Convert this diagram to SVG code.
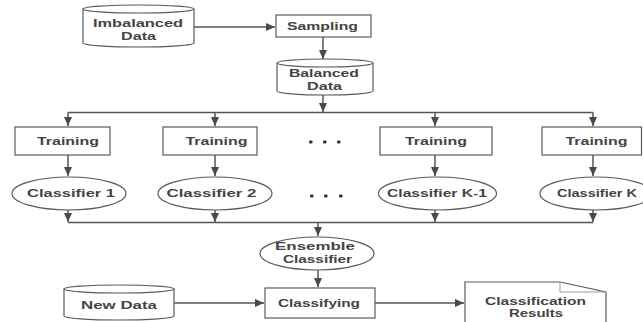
<svg xmlns="http://www.w3.org/2000/svg" width="643" height="322" viewBox="0 0 643 322">
<defs>
<marker id="ah" markerWidth="10" markerHeight="10" refX="9" refY="5" orient="auto" markerUnits="userSpaceOnUse">
<path d="M0,1 L9,5 L0,9 Z" fill="#4a4a4a"/>
</marker>
<style>
.s{fill:#fff;stroke:#5a5a5a;stroke-width:1.2}
.c{fill:none;stroke:#555;stroke-width:1.5}
.a{fill:none;stroke:#555;stroke-width:1.5;marker-end:url(#ah)}
.t{font-family:"Liberation Sans",Arial,sans-serif;font-size:11px;font-weight:bold;fill:#444;text-anchor:middle}
.d{fill:#333}
</style>
</defs>
<rect width="643" height="322" fill="#fff"/>
<g id="connectors">
<path class="a" d="M194,27 H275"/>
<path class="a" d="M323,37 V59"/>
<path class="a" d="M323,95 V112"/>
<path class="c" d="M68,112.5 H593"/>
<path class="a" d="M68,112.5 V126"/>
<path class="a" d="M215,112.5 V126"/>
<path class="a" d="M435,112.5 V126"/>
<path class="a" d="M593,112.5 V126"/>
<path class="a" d="M68,155 V176"/>
<path class="a" d="M215,155 V176"/>
<path class="a" d="M435,155 V176"/>
<path class="a" d="M593,155 V176"/>
<path class="a" d="M68,210 V222"/>
<path class="a" d="M215,210 V222"/>
<path class="a" d="M435,210 V222"/>
<path class="a" d="M593,210 V222"/>
<path class="c" d="M68,222.5 H593"/>
<path class="a" d="M318,222.5 V236"/>
<path class="a" d="M318,270 V287"/>
<path class="a" d="M174,303 H264"/>
<path class="a" d="M375,303 H464"/>
</g>
<g id="imbalanced">
<path class="s" d="M83,9 V43 A55.5,4 0 0 0 194,43 V9 A55.5,4 0 0 0 83,9 Z"/>
<path class="s" fill="none" d="M83,9 A55.5,4 0 0 0 194,9"/>
<text class="t" x="138" y="27" textLength="90" lengthAdjust="spacingAndGlyphs">Imbalanced</text>
<text class="t" x="138.5" y="39.5" textLength="35" lengthAdjust="spacingAndGlyphs">Data</text>
</g>
<g id="sampling">
<rect class="s" x="276" y="15" width="95" height="22"/>
<text class="t" x="322.5" y="30" textLength="71" lengthAdjust="spacingAndGlyphs">Sampling</text>
</g>
<g id="balanced">
<path class="s" d="M277,63 V91 A48,4 0 0 0 373,91 V63 A48,4 0 0 0 277,63 Z"/>
<path class="s" fill="none" d="M277,63 A48,4 0 0 0 373,63"/>
<text class="t" x="324" y="77" textLength="70" lengthAdjust="spacingAndGlyphs">Balanced</text>
<text class="t" x="324.5" y="89.5" textLength="35" lengthAdjust="spacingAndGlyphs">Data</text>
</g>
<g id="training1">
<rect class="s" x="15" y="127" width="95" height="28"/>
<text class="t" x="68" y="145" textLength="62" lengthAdjust="spacingAndGlyphs">Training</text>
</g>
<g id="training2">
<rect class="s" x="163" y="127" width="94" height="28"/>
<text class="t" x="216.5" y="145" textLength="62" lengthAdjust="spacingAndGlyphs">Training</text>
</g>
<g id="dots">
<rect class="d" x="309" y="140.5" width="3.5" height="3" rx="1"/>
<rect class="d" x="323" y="140.5" width="3.5" height="3" rx="1"/>
<rect class="d" x="337" y="140.5" width="3.5" height="3" rx="1"/>
<rect class="d" x="310" y="194.5" width="3.5" height="3" rx="1"/>
<rect class="d" x="324" y="194.5" width="3.5" height="3" rx="1"/>
<rect class="d" x="339" y="194.5" width="3.5" height="3" rx="1"/>
</g>
<g id="training3">
<rect class="s" x="380" y="127" width="112" height="28"/>
<text class="t" x="436" y="145" textLength="62" lengthAdjust="spacingAndGlyphs">Training</text>
</g>
<g id="training4">
<rect class="s" x="542" y="127" width="99.5" height="28"/>
<text class="t" x="596.5" y="145" textLength="62" lengthAdjust="spacingAndGlyphs">Training</text>
</g>
<g id="classifier1">
<ellipse class="s" cx="69" cy="193.5" rx="57" ry="16.5"/>
<text class="t" x="71" y="197" textLength="88" lengthAdjust="spacingAndGlyphs">Classifier 1</text>
</g>
<g id="classifier2">
<ellipse class="s" cx="215" cy="193.5" rx="57" ry="16.5"/>
<text class="t" x="211.5" y="197" textLength="90" lengthAdjust="spacingAndGlyphs">Classifier 2</text>
</g>
<g id="classifierK1">
<ellipse class="s" cx="437.5" cy="193.5" rx="59" ry="16.5"/>
<text class="t" x="437" y="197" textLength="100" lengthAdjust="spacingAndGlyphs">Classifier K-1</text>
</g>
<g id="classifierK">
<ellipse class="s" cx="596" cy="193.5" rx="56" ry="16.5"/>
<text class="t" x="597" y="197" textLength="80" lengthAdjust="spacingAndGlyphs">Classifier K</text>
</g>
<g id="ensemble">
<ellipse class="s" cx="317" cy="253.5" rx="57" ry="16.5"/>
<text class="t" x="315" y="250" textLength="80" lengthAdjust="spacingAndGlyphs">Ensemble</text>
<text class="t" x="317.5" y="262.5" textLength="69" lengthAdjust="spacingAndGlyphs">Classifier</text>
</g>
<g id="newdata">
<path class="s" d="M64,289 V316 A55,4 0 0 0 174,316 V289 A55,4 0 0 0 64,289 Z"/>
<path class="s" fill="none" d="M64,289 A55,4 0 0 0 174,289"/>
<text class="t" x="119" y="309" textLength="76" lengthAdjust="spacingAndGlyphs">New Data</text>
</g>
<g id="classifying">
<rect class="s" x="265" y="288" width="110" height="30"/>
<text class="t" x="319" y="307" textLength="82" lengthAdjust="spacingAndGlyphs">Classifying</text>
</g>
<g id="results">
<path class="s" d="M465,324 V282 H560 L606,292 V324"/>
<path fill="none" stroke="#999" stroke-width="1" d="M560,282 V292 H606"/>
<text class="t" x="535.5" y="304.5" textLength="101" lengthAdjust="spacingAndGlyphs">Classification</text>
<text class="t" x="536" y="317" textLength="54" lengthAdjust="spacingAndGlyphs">Results</text>
</g>
</svg>
